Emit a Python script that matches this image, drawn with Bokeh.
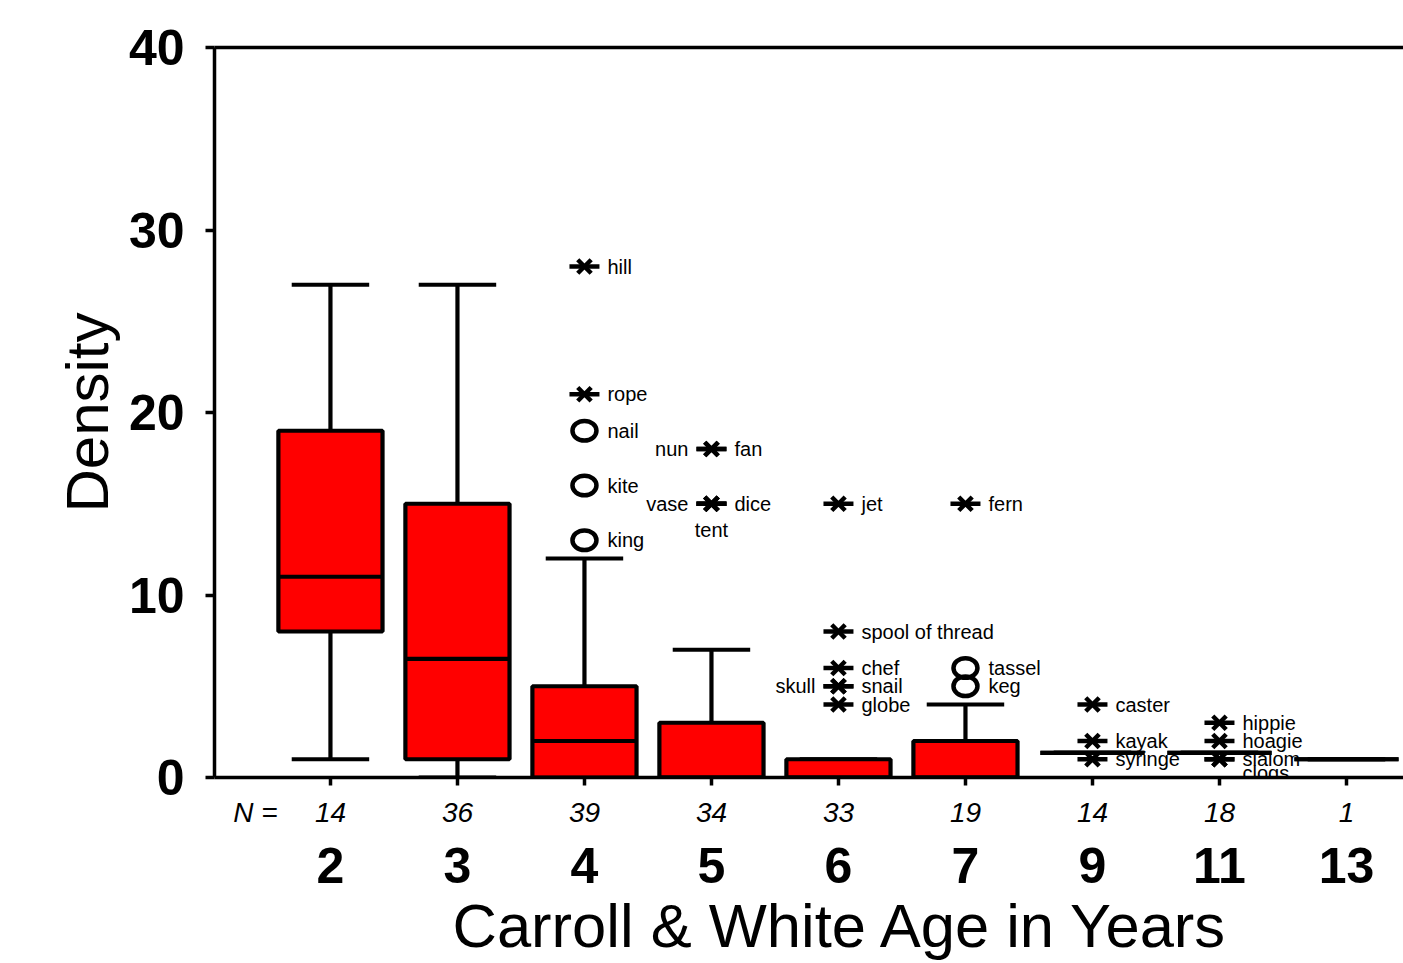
from bokeh.plotting import figure
from bokeh.models import Range1d, LinearAxis, FixedTicker, ColumnDataSource, Title
from bokeh.embed import file_html
from bokeh.resources import INLINE
from bokeh.core.properties import value

FONT = "Liberation Sans"

# ---- data ----
ages = ["2", "3", "4", "5", "6", "7", "9", "11", "13"]
n_counts = [14, 36, 39, 34, 33, 19, 14, 18, 1]
whisker_low = [1, 0, 0, 0, 0, 0, 1.35, 1.35, 1]
q1 = [8, 1, 0, 0, 0, 0, 1.35, 1.35, 1]
median = [11, 6.5, 2, 0, 0, 0, 1.35, 1.35, 1]
q3 = [19, 15, 5, 3, 1, 2, 1.35, 1.35, 1]
whisker_high = [27, 27, 12, 7, 1, 4, 1.35, 1.35, 1]

# outlying words: age group, density, word, kind ("o" outlier, "*" extreme), label side
out_age = ["4", "4", "4", "4", "4",
           "5", "5", "5", "5", "5",
           "6", "6", "6", "6", "6", "6",
           "7", "7", "7",
           "9", "9", "9",
           "11", "11", "11", "11"]
out_val = [28, 21, 19, 16, 13,
           18, 18, 15, 15, 15,
           15, 8, 6, 5, 5, 4,
           15, 6, 5,
           4, 2, 1,
           3, 2, 1, 1]
out_word = ["hill", "rope", "nail", "kite", "king",
            "nun", "fan", "vase", "dice", "tent",
            "jet", "spool of thread", "chef", "skull", "snail", "globe",
            "fern", "tassel", "keg",
            "caster", "kayak", "syringe",
            "hippie", "hoagie", "slalom", "clogs"]
out_kind = ["*", "*", "o", "o", "o",
            "*", "*", "*", "*", "*",
            "*", "*", "*", "*", "*", "*",
            "*", "o", "o",
            "*", "*", "*",
            "*", "*", "*", "*"]
out_side = ["right", "right", "right", "right", "right",
            "left", "right", "left", "right", "below",
            "right", "right", "right", "left", "right", "right",
            "right", "right", "right",
            "right", "right", "right",
            "right", "right", "right", "lowright"]

# ---- derived positions ----
xpos = list(range(len(ages)))
idx = {a: i for i, a in enumerate(ages)}
ox = [idx[a] for a in out_age]

BW = 0.41   # half box width
CW = 0.305  # half cap width
LW = 4.2

p = figure(width=1403, height=963,
           x_range=Range1d(-0.913, 8.449), y_range=Range1d(0, 40),
           output_backend="svg", toolbar_location=None,
           x_axis_type=None, y_axis_type=None,
           min_border_left=214, min_border_right=0,
           min_border_top=47, min_border_bottom=186)
p.outline_line_color = None
p.xgrid.visible = False
p.ygrid.visible = False
p.background_fill_color = "white"
p.border_fill_color = "white"

# labels of outlying words
offsets = {"right": (23, 0, "left"), "left": (-23, 0, "right"),
           "below": (0, 26, "center"), "lowright": (23, 14, "left")}
for side, (dx, dy, align) in offsets.items():
    sel = [i for i, s in enumerate(out_side) if s == side]
    src = ColumnDataSource(dict(x=[ox[i] for i in sel], y=[out_val[i] for i in sel],
                                t=[out_word[i] for i in sel]))
    p.text(x="x", y="y", text="t", source=src, x_offset=dx, y_offset=dy,
           text_align=align, text_baseline="middle",
           text_font=value(FONT), text_font_size="20px", text_color="black")

# boxes
box_src = ColumnDataSource(dict(x=xpos, lo=whisker_low, q1=q1, med=median, q3=q3, hi=whisker_high,
                                l=[x - BW for x in xpos], r=[x + BW for x in xpos],
                                cl=[x - CW for x in xpos], cr=[x + CW for x in xpos]))
p.segment(x0="x", y0="q3", x1="x", y1="hi", source=box_src, line_color="black", line_width=LW)
p.segment(x0="x", y0="q1", x1="x", y1="lo", source=box_src, line_color="black", line_width=LW)
p.segment(x0="cl", y0="hi", x1="cr", y1="hi", source=box_src, line_color="black", line_width=LW)
p.segment(x0="cl", y0="lo", x1="cr", y1="lo", source=box_src, line_color="black", line_width=LW)
p.quad(left="l", right="r", bottom="q1", top="q3", source=box_src,
       fill_color="#FF0000", line_color="black", line_width=LW)
p.segment(x0="l", y0="med", x1="r", y1="med", source=box_src, line_color="black", line_width=LW)

# markers
ext = [i for i, k in enumerate(out_kind) if k == "*"]
ext_src = ColumnDataSource(dict(x=[ox[i] for i in ext], y=[out_val[i] for i in ext]))
p.scatter(x="x", y="y", source=ext_src, marker="dash", size=30, line_color="black", line_width=4.5)
p.scatter(x="x", y="y", source=ext_src, marker="x", size=19, line_color="black", line_width=4.5)
oth = [i for i, k in enumerate(out_kind) if k == "o"]
oth_src = ColumnDataSource(dict(x=[ox[i] for i in oth], y=[out_val[i] for i in oth]))
p.ellipse(x="x", y="y", source=oth_src, width=24, height=19.5, width_units="screen",
          height_units="screen", fill_color=None, line_color="black", line_width=4.5)

# ---- axes ----
yax = LinearAxis(ticker=FixedTicker(ticks=[0, 10, 20, 30, 40]), axis_label="Density")
yax.axis_line_width = 3.5
yax.major_tick_line_width = 3.5
yax.major_tick_out = 9
yax.major_tick_in = 0
yax.minor_tick_line_color = None
yax.major_label_text_font = FONT
yax.major_label_text_font_size = "50px"
yax.major_label_text_font_style = "bold"
yax.major_label_text_color = "black"
yax.major_label_standoff = 21
yax.axis_label_text_font = FONT
yax.axis_label_text_font_size = "60px"
yax.axis_label_text_font_style = "normal"
yax.axis_label_text_color = "black"
yax.axis_label_standoff = 5
p.add_layout(yax, "left")

top = LinearAxis(ticker=FixedTicker(ticks=[]))
top.axis_line_width = 3.5
top.major_tick_line_color = None
top.minor_tick_line_color = None
top.major_label_standoff = 0
p.add_layout(top, "above")

# axis line, tick marks (as minor ticks) and group sizes (major labels)
n_tick = -0.59
ax0 = LinearAxis(ticker=FixedTicker(ticks=[n_tick] + xpos, minor_ticks=xpos))
ax0.major_label_overrides = {**{n_tick: "N ="}, **{x: str(n) for x, n in zip(xpos, n_counts)}}
ax0.axis_line_width = 3.5
ax0.major_tick_line_color = None
ax0.major_tick_out = 8
ax0.major_tick_in = 0
ax0.minor_tick_line_color = "black"
ax0.minor_tick_line_width = 3.5
ax0.minor_tick_out = 8
ax0.minor_tick_in = 0
ax0.major_label_text_font = FONT
ax0.major_label_text_font_size = "28px"
ax0.major_label_text_font_style = "italic"
ax0.major_label_text_color = "black"
ax0.major_label_standoff = 11
p.add_layout(ax0, "below")

# age group labels
axc = LinearAxis(ticker=FixedTicker(ticks=xpos))
axc.major_label_overrides = {x: a for x, a in zip(xpos, ages)}
axc.axis_line_color = None
axc.major_tick_line_color = None
axc.minor_tick_line_color = None
axc.major_label_text_font = FONT
axc.major_label_text_font_size = "50px"
axc.major_label_text_font_style = "bold"
axc.major_label_text_color = "black"
axc.major_label_standoff = 11
p.add_layout(axc, "below")

p.add_layout(Title(text="Carroll & White Age in Years", align="left", offset=238,
                   text_font=FONT, text_font_size="61.5px", text_font_style="normal",
                   text_color="black", standoff=6), "below")

open("out.html", "w").write(file_html(p, INLINE))
